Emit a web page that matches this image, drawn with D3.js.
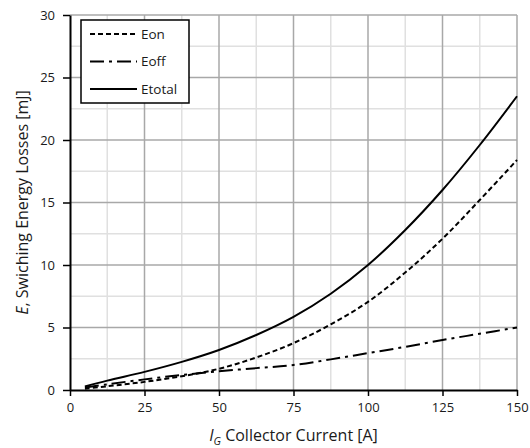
<!DOCTYPE html>
<html>
<head>
<meta charset="utf-8">
<script src="https://cdn.jsdelivr.net/npm/d3@7"></script>
<style>
  body { margin: 0; background: #fff; }
  svg text { font-family: "Open Sans", "Noto Sans", sans-serif; fill: #1a1a1a; }
</style>
</head>
<body>
<svg id="chart"></svg>
<script>
const current = [5, 12.5, 25, 37.5, 50, 62.5, 75, 87.5, 100, 112.5, 125, 137.5, 150];
const eon = [0.1, 0.3, 0.65, 1.1, 1.7, 2.6, 3.75, 5.25, 7.05, 9.4, 12.1, 15.2, 18.4];
const eoff = [0.2, 0.45, 0.85, 1.2, 1.5, 1.75, 2.0, 2.45, 2.95, 3.45, 4.0, 4.5, 5.0];
const etotal = [0.28, 0.75, 1.45, 2.25, 3.2, 4.4, 5.85, 7.7, 10.0, 12.8, 16.0, 19.6, 23.5];
const seriesNames = ['Eon', 'Eoff', 'Etotal'];
const xTicks = [0, 25, 50, 75, 100, 125, 150];
const yTicks = [0, 5, 10, 15, 20, 25, 30];

const MARGIN = { top: 15, right: 13, bottom: 58, left: 70 };
const width = 530, height = 448;
const boundedWidth = width - MARGIN.left - MARGIN.right,
    boundedHeight = height - MARGIN.top - MARGIN.bottom;

const dashes = { Eon: '5,3', Eoff: '14,5,3,5', Etotal: null };
const values = { Eon: eon, Eoff: eoff, Etotal: etotal };

const $svg = d3.select('#chart').attr('width', width).attr('height', height);
const $gVis = $svg.append('g').attr('transform', `translate(${MARGIN.left}, ${MARGIN.top})`);

const xScale = d3.scaleLinear().domain([0, 150]).range([0, boundedWidth]);
const yScale = d3.scaleLinear().domain([0, 30]).range([boundedHeight, 0]);

// minor grid
const xMinor = d3.range(12.5, 150, 25), yMinor = d3.range(2.5, 30, 5);
$gVis.append('g').selectAll('line').data(xMinor).join('line')
    .attr('x1', d => xScale(d)).attr('x2', d => xScale(d))
    .attr('y1', 0).attr('y2', boundedHeight)
    .attr('stroke', '#e0e0e0').attr('stroke-width', 1.5);
$gVis.append('g').selectAll('line').data(yMinor).join('line')
    .attr('y1', d => yScale(d)).attr('y2', d => yScale(d))
    .attr('x1', 0).attr('x2', boundedWidth)
    .attr('stroke', '#e0e0e0').attr('stroke-width', 1.5);

// major grid
$gVis.append('g').selectAll('line').data(xTicks.slice(1)).join('line')
    .attr('x1', d => xScale(d)).attr('x2', d => xScale(d))
    .attr('y1', 0).attr('y2', boundedHeight)
    .attr('stroke', '#a8a8a8').attr('stroke-width', 1.5);
$gVis.append('g').selectAll('line').data(yTicks.slice(1)).join('line')
    .attr('y1', d => yScale(d)).attr('y2', d => yScale(d))
    .attr('x1', 0).attr('x2', boundedWidth)
    .attr('stroke', '#a8a8a8').attr('stroke-width', 1.5);

// axes
const xAxis = $gVis.append('g')
    .attr('transform', `translate(0, ${boundedHeight})`)
    .call(d3.axisBottom(xScale).tickValues(xTicks).tickSize(6).tickPadding(7).tickSizeOuter(0));
const yAxis = $gVis.append('g')
    .call(d3.axisLeft(yScale).tickValues(yTicks).tickSize(7).tickPadding(8).tickSizeOuter(0));
[xAxis, yAxis].forEach(a => {
    a.select('.domain').attr('stroke', '#000').attr('stroke-width', 2);
    a.selectAll('.tick line').attr('stroke', '#000').attr('stroke-width', 1.5);
    a.selectAll('.tick text').style('font-size', '13px').attr('fill', '#1a1a1a');
});

// curves
const line = d3.line()
    .x((d, i) => xScale(current[i]))
    .y(d => yScale(d))
    .curve(d3.curveCatmullRom.alpha(0.5));

seriesNames.forEach(name => {
    $gVis.append('path')
        .datum(values[name])
        .attr('d', line)
        .attr('fill', 'none')
        .attr('stroke', '#000')
        .attr('stroke-width', 2)
        .attr('stroke-dasharray', dashes[name]);
});

// legend
const $legend = $gVis.append('g').attr('transform', 'translate(11, 5)');
$legend.append('rect')
    .attr('width', 108).attr('height', 83)
    .attr('fill', '#fff').attr('stroke', '#000').attr('stroke-width', 1.5);
seriesNames.forEach((name, i) => {
    const y = 14 + i * 27.5;
    $legend.append('line')
        .attr('x1', 9).attr('x2', 56).attr('y1', y).attr('y2', y)
        .attr('stroke', '#000').attr('stroke-width', 2)
        .attr('stroke-dasharray', dashes[name]);
    $legend.append('text')
        .attr('x', 60).attr('y', y).attr('dy', '0.35em')
        .style('font-size', '13.5px')
        .text(name);
});

// axis titles
const xTitle = $svg.append('text')
    .attr('x', MARGIN.left + boundedWidth / 2)
    .attr('y', 441)
    .attr('text-anchor', 'middle')
    .style('font-size', '16px');
xTitle.append('tspan').style('font-style', 'italic').text('I');
xTitle.append('tspan').style('font-style', 'italic').style('font-size', '11px').attr('dy', 4).text('G');
xTitle.append('tspan').attr('dy', -4).text(' Collector Current [A]');

const yTitle = $svg.append('text')
    .attr('transform', `translate(28, ${MARGIN.top + boundedHeight / 2}) rotate(-90)`)
    .attr('text-anchor', 'middle')
    .style('font-size', '16px');
yTitle.append('tspan').style('font-style', 'italic').text('E');
yTitle.append('tspan').text(', Swiching Energy Losses [mJ]');
</script>
</body>
</html>
